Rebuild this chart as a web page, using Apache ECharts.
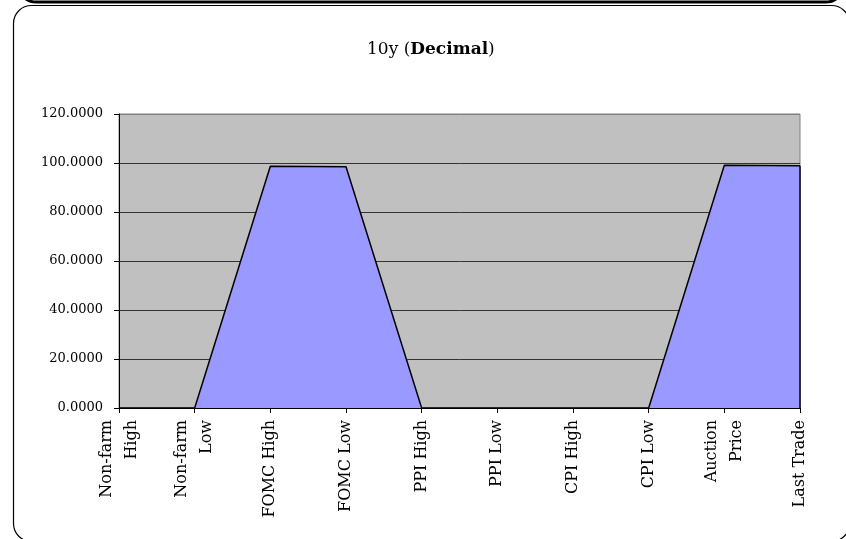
<!DOCTYPE html>
<html>
<head>
<meta charset="utf-8">
<script src="https://cdn.jsdelivr.net/npm/echarts@6/dist/echarts.min.js"></script>
<style>
  html, body { margin: 0; padding: 0; background: #ffffff; }
  #chart { width: 846px; height: 539px; }
</style>
</head>
<body>
<div id="chart"></div>
<script>
// Category labels along the x axis
const categories = [
  'Non-farm\nHigh', 'Non-farm\nLow', 'FOMC High', 'FOMC Low', 'PPI High',
  'PPI Low', 'CPI High', 'CPI Low', 'Auction\nPrice', 'Last Trade'
];
// 10y price levels (decimal)
const values = [0, 0, 98.65, 98.5, 0, 0, 0, 0, 99.1, 98.9];
// Value axis range
const yMin = 0;
const yMax = 120;
const yStep = 20;

const serif = '"DejaVu Serif", "Liberation Serif", serif';
const lastIdx = values.length - 1;

const chart = echarts.init(document.getElementById('chart'), null, { renderer: 'canvas' });

chart.setOption({
  animation: false,
  backgroundColor: '#ffffff',
  title: {
    text: '10y ({b|Decimal})',
    left: 362,
    top: 36,
    textStyle: {
      fontFamily: serif,
      fontSize: 17,
      fontWeight: 'normal',
      color: '#000',
      rich: {
        b: { fontFamily: serif, fontSize: 17, fontWeight: 'bold', color: '#000' }
      }
    }
  },
  graphic: [
    {
      type: 'rect',
      shape: { x: 18, y: -60, width: 826, height: 62, r: 18 },
      style: { fill: 'none', stroke: '#000', lineWidth: 3 },
      silent: true
    },
    {
      type: 'rect',
      shape: { x: 13.5, y: 5.5, width: 836, height: 536, r: 18 },
      style: { fill: 'none', stroke: '#000', lineWidth: 1.2 },
      silent: true
    }
  ],
  grid: {
    left: 119,
    right: 46,
    top: 114,
    bottom: 131,
    show: true,
    backgroundColor: '#C0C0C0',
    borderColor: '#808080',
    borderWidth: 1
  },
  xAxis: {
    type: 'category',
    data: categories,
    boundaryGap: false,
    axisLine: { show: true, lineStyle: { color: '#000', width: 1 } },
    axisTick: { show: true, length: 5, inside: false, lineStyle: { color: '#000' } },
    axisLabel: {
      rotate: 90,
      margin: 12,
      interval: 0,
      fontFamily: serif,
      fontSize: 16,
      lineHeight: 25,
      color: '#000'
    },
    splitLine: { show: false }
  },
  yAxis: {
    type: 'value',
    min: yMin,
    max: yMax,
    interval: yStep,
    axisLine: { show: true, lineStyle: { color: '#000', width: 1 } },
    axisTick: { show: true, length: 5, inside: false, lineStyle: { color: '#000' } },
    axisLabel: {
      margin: 16,
      fontFamily: serif,
      fontSize: 13,
      color: '#000',
      formatter: v => v.toFixed(4)
    },
    splitLine: {
      show: true,
      lineStyle: {
        color: ['#000', '#333', '#333', '#333', '#333', '#333', '#808080'],
        width: 1
      }
    }
  },
  series: [
    {
      type: 'line',
      data: values,
      symbol: 'none',
      lineStyle: { color: '#000', width: 1.5 },
      areaStyle: { color: '#9999FF', opacity: 1 },
      z: 3,
      markLine: {
        silent: true,
        symbol: 'none',
        label: { show: false },
        lineStyle: { color: '#000', width: 1.5, type: 'solid' },
        data: [[
          { coord: [lastIdx, yMin] },
          { coord: [lastIdx, values[lastIdx]] }
        ]]
      }
    }
  ]
});
</script>
</body>
</html>
